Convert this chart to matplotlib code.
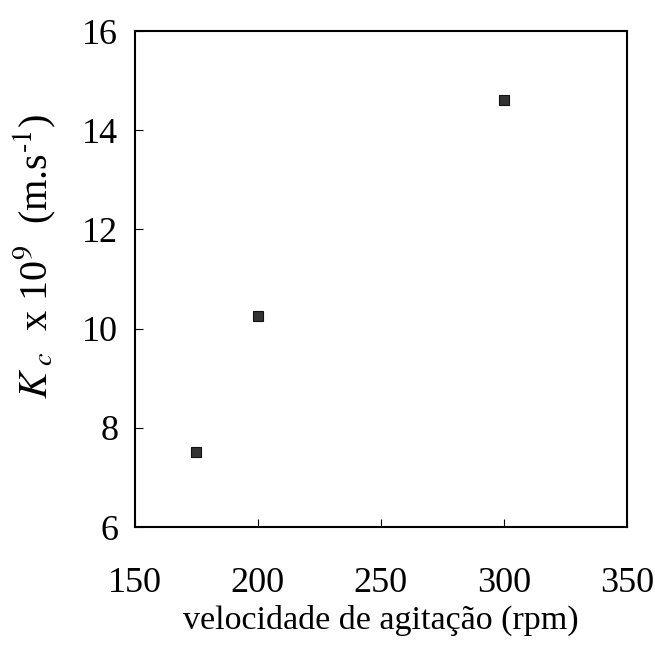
import matplotlib
matplotlib.use("Agg")
import matplotlib.pyplot as plt

# agitation speed (rpm) vs mass transfer coefficient Kc x 10^9 (m/s)
speed_rpm = [175, 200, 300]
kc_values = [7.52, 10.25, 14.6]

x_ticks = [150, 200, 250, 300, 350]
y_ticks = [6, 8, 10, 12, 14, 16]

plt.rcParams["font.family"] = ["Liberation Serif", "DejaVu Serif"]
plt.rcParams["mathtext.fontset"] = "stix"

fig = plt.figure(figsize=(6.55, 6.46), dpi=100)
ax = fig.add_axes([0.206, 0.184, 0.751, 0.768])

ax.plot(speed_rpm, kc_values, linestyle="none", marker="s", markersize=7.5,
        markerfacecolor="#333333", markeredgecolor="#111111", markeredgewidth=0.8)

ax.set_xlim(150, 350)
ax.set_ylim(6, 16)
ax.set_xticks(x_ticks)
ax.set_yticks(y_ticks)

for spine in ax.spines.values():
    spine.set_linewidth(1.5)

ax.tick_params(direction="in", length=6, width=0.8, labelsize=26, pad=12)
ax.tick_params(axis="x", pad=29)

ax.set_xlabel("velocidade de agitação (rpm)", fontsize=24.5, labelpad=3)
ax.set_ylabel(r"$K_{\ c}$  x 10$^9$  (m.s$^{\text{-}1}$)", fontsize=29)
ax.yaxis.set_label_coords(-0.157, 0.545)

fig.savefig("out.png", dpi=100)
